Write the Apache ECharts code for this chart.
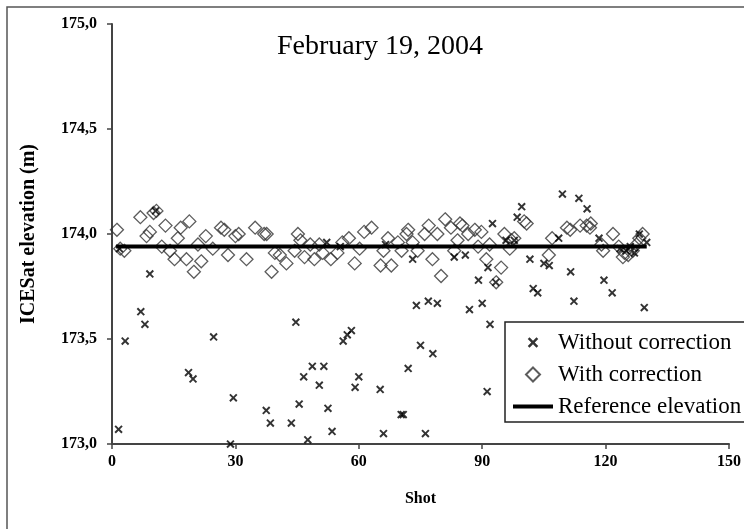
<!DOCTYPE html>
<html>
<head>
<meta charset="utf-8">
<script src="https://cdn.jsdelivr.net/npm/echarts@6/dist/echarts.min.js"></script>
<style>
  html, body { margin: 0; padding: 0; background: #fff; }
  #chart { width: 744px; height: 529px; }
</style>
</head>
<body>
<div id="chart"></div>
<script>
// shots without correction (x) and their elevations
const shotsWithout = [1.6, 1.8, 3.2, 7.0, 8.0, 9.2, 10.6, 18.6, 19.7, 24.7, 28.8, 29.5, 37.5, 38.5,
    43.6, 44.7, 45.5, 46.6, 47.6, 48.7, 50.4, 51.5, 52.2, 52.5, 53.5, 55.5, 56.2, 57.2, 58.2, 59.1,
    60.0, 65.2, 66.0, 66.5, 70.3, 70.8, 72.0, 73.1, 74.0, 75.0, 76.2, 76.9, 78.0, 79.1, 83.2, 85.9,
    86.9, 89.1, 90.0, 91.2, 91.4, 91.9, 92.5, 93.3, 95.8, 97.8, 98.5, 99.6, 101.6, 102.4, 103.5,
    105.0, 106.3, 108.6, 109.5, 111.5, 112.3, 113.5, 115.5, 118.4, 119.6, 121.6, 123.5, 125.0,
    126.0, 127.0, 128.2, 129.4, 130.0];
const elevWithout = [173.07, 173.93, 173.49, 173.63, 173.57, 173.81, 174.11, 173.34, 173.31, 173.51, 173.00, 173.22, 173.16, 173.10,
    173.10, 173.58, 173.19, 173.32, 173.02, 173.37, 173.28, 173.37, 173.96, 173.17, 173.06, 173.94, 173.49, 173.52, 173.54, 173.27,
    173.32, 173.26, 173.05, 173.95, 173.14, 173.14, 173.36, 173.88, 173.66, 173.47, 173.05, 173.68, 173.43, 173.67, 173.89, 173.90,
    173.64, 173.78, 173.67, 173.25, 173.84, 173.57, 174.05, 173.77, 173.97, 173.97, 174.08, 174.13, 173.88, 173.74, 173.72,
    173.86, 173.85, 173.98, 174.19, 173.82, 173.68, 174.17, 174.12, 173.98, 173.78, 173.72, 173.93, 173.92,
    173.94, 173.91, 174.00, 173.65, 173.96];

// shots with correction (diamonds) and their elevations
const shotsWith = [1.2, 2.0, 3.0, 6.9, 8.4, 9.2, 10.1, 10.8, 12.1, 13.0, 14.1, 15.2, 16.0, 16.7, 18.1,
    18.8, 19.9, 20.9, 21.7, 22.8, 24.5, 26.5, 27.3, 28.2, 30.0, 30.8, 32.7, 34.8, 37.0, 37.6, 38.8,
    39.6, 40.8, 42.4, 44.4, 45.2, 45.8, 46.8, 48.2, 49.2, 50.4, 51.2, 53.2, 54.8, 56.0, 57.6, 59.0,
    60.2, 61.3, 63.1, 65.3, 66.0, 67.1, 67.9, 69.5, 70.4, 71.6, 72.0, 73.1, 74.3, 76.0, 77.0, 77.9,
    79.1, 80.0, 81.0, 82.4, 83.2, 84.0, 84.6, 85.2, 86.6, 88.2, 89.0, 89.8, 91.0, 91.8, 93.4, 94.6,
    95.4, 96.7, 97.1, 97.8, 100.2, 100.8, 106.2, 107.0, 110.6, 111.4, 113.8, 115.4, 116.2, 116.4,
    119.0, 119.4, 121.8, 123.2, 124.2, 124.6, 125.5, 126.6, 127.5, 128.2, 129.0];
const elevWith = [174.02, 173.93, 173.92, 174.08, 173.99, 174.01, 174.10, 174.11, 173.94, 174.04, 173.92, 173.88, 173.98, 174.03, 173.88,
    174.06, 173.82, 173.95, 173.87, 173.99, 173.93, 174.03, 174.02, 173.90, 173.99, 174.00, 173.88, 174.03, 174.00, 174.00, 173.82,
    173.91, 173.90, 173.86, 173.92, 174.00, 173.97, 173.89, 173.95, 173.88, 173.95, 173.91, 173.88, 173.91, 173.96, 173.98, 173.86,
    173.93, 174.01, 174.03, 173.85, 173.92, 173.98, 173.85, 173.96, 173.92, 174.00, 174.02, 173.96, 173.92, 174.00, 174.04, 173.88,
    174.00, 173.80, 174.07, 174.03, 173.92, 173.97, 174.05, 174.04, 174.00, 174.02, 173.94, 174.01, 173.88, 173.95, 173.77, 173.84,
    174.00, 173.93, 173.97, 173.98, 174.06, 174.05, 173.90, 173.98, 174.03, 174.02, 174.04, 174.04, 174.03, 174.05,
    173.95, 173.92, 174.00, 173.94, 173.89, 173.91, 173.90, 173.92, 173.95, 173.98, 174.00];

// reference elevation line
const refShots = [1, 130];
const refElevation = 173.94;

const serif = "'Liberation Serif', 'DejaVu Serif', serif";
// x mark, padded with empty moves so it stays small inside its box
const crossSymbol = 'path://M0,0M12,12M1.5,3L3,1.5L6,4.5L9,1.5L10.5,3L7.5,6L10.5,9L9,10.5L6,7.5L3,10.5L1.5,9L4.5,6Z';
// legend diamond drawn in the 40x14 icon box so it is not stretched
const legendDiamond = 'path://M0,0M40,14M20,0L27,7L20,14L13,7Z';

const chart = echarts.init(document.getElementById('chart'));

const option = {
    backgroundColor: '#fff',
    animation: false,
    graphic: [{
        type: 'rect',
        shape: { x: 7, y: 7, width: 800, height: 560 },
        style: { fill: 'none', stroke: '#555', lineWidth: 1.5 },
        silent: true
    }],
    title: {
        text: 'February 19, 2004',
        left: 272,
        top: 28,
        textStyle: {
            fontFamily: serif,
            fontSize: 28,
            fontWeight: 'normal',
            color: '#000'
        }
    },
    legend: {
        data: [
            { name: 'Without correction' },
            { name: 'With correction', icon: legendDiamond },
            { name: 'Reference elevation', icon: 'path://M0,0L40,0L40,4L0,4Z' }
        ],
        orient: 'vertical',
        left: 505,
        top: 322,
        itemWidth: 40,
        itemHeight: 14,
        itemGap: 9,
        padding: [9, 10, 4, 7],
        backgroundColor: '#fff',
        borderColor: '#222',
        borderWidth: 1.5,
        borderRadius: 0,
        textStyle: {
            fontFamily: serif,
            fontSize: 23,
            color: '#000'
        }
    },
    grid: {
        left: 112,
        right: 7,
        top: 24,
        bottom: 85,
        containLabel: false
    },
    xAxis: {
        type: 'value',
        min: 0,
        max: 150,
        interval: 30,
        name: 'Shot',
        nameLocation: 'middle',
        nameGap: 47,
        nameTextStyle: {
            fontFamily: serif,
            fontSize: 16,
            fontWeight: 'bold',
            color: '#000'
        },
        axisLine: { lineStyle: { color: '#444', width: 2 } },
        axisTick: { show: true, length: 5, lineStyle: { color: '#444', width: 1.5 } },
        axisLabel: {
            margin: 10,
            fontFamily: serif,
            fontSize: 16,
            fontWeight: 'bold',
            color: '#000'
        },
        splitLine: { show: false }
    },
    yAxis: {
        type: 'value',
        min: 173,
        max: 175,
        interval: 0.5,
        name: 'ICESat elevation (m)',
        nameLocation: 'middle',
        nameGap: 73,
        nameRotate: 90,
        nameTextStyle: {
            fontFamily: serif,
            fontSize: 20,
            fontWeight: 'bold',
            color: '#000'
        },
        axisLine: { show: true, lineStyle: { color: '#444', width: 2 } },
        axisTick: { show: true, length: 5, lineStyle: { color: '#444', width: 1.5 } },
        axisLabel: {
            margin: 15,
            fontFamily: serif,
            fontSize: 16,
            fontWeight: 'bold',
            color: '#000',
            formatter: v => v.toFixed(1).replace('.', ',')
        },
        splitLine: { show: false }
    },
    series: [
        {
            name: 'With correction',
            type: 'scatter',
            symbol: 'diamond',
            symbolSize: 13,
            data: shotsWith.map((s, i) => [s, elevWith[i]]),
            itemStyle: {
                color: 'rgba(255,255,255,0)',
                borderColor: '#333',
                borderWidth: 1.3
            }
        },
        {
            name: 'Reference elevation',
            type: 'line',
            symbol: 'none',
            data: refShots.map(s => [s, refElevation]),
            lineStyle: { color: '#000', width: 4 },
            itemStyle: { color: '#000' }
        },
        {
            name: 'Without correction',
            type: 'scatter',
            symbol: crossSymbol,
            symbolSize: 11,
            data: shotsWithout.map((s, i) => [s, elevWithout[i]]),
            itemStyle: { color: '#000' }
        }
    ]
};

chart.setOption(option);
</script>
</body>
</html>
